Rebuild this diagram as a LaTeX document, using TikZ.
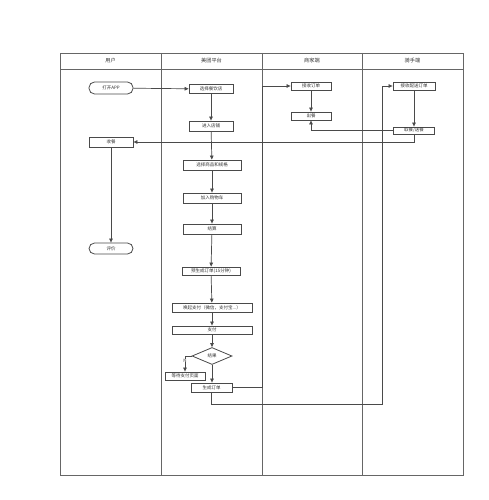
\documentclass[tikz,border=0pt]{standalone}
\usepackage{fontspec}
\setmainfont{Noto Sans CJK SC}
\usetikzlibrary{shapes.geometric,arrows.meta}
\definecolor{lane}{HTML}{666666}
\definecolor{edge}{HTML}{4a4a4a}
\begin{document}
\begin{tikzpicture}[x=1pt,y=-1pt,
  box/.style={draw=edge,line width=0.8pt,fill=white,inner sep=0pt,minimum height=9pt,font=\fontsize{4.5}{5}\selectfont,text=black!80},
  term/.style={box,rounded corners=5.5pt,minimum width=44pt,minimum height=12pt},
  dec/.style={draw=edge,line width=0.8pt,fill=white,diamond,aspect=2.35,inner sep=0pt,minimum width=40pt,minimum height=17pt,font=\fontsize{4.5}{5}\selectfont,text=black!80},
  conn/.style={draw=edge,line width=0.7pt,-{Triangle[length=4pt,width=3.5pt]}},
  hdr/.style={font=\fontsize{5.2}{6}\selectfont,text=black!80}]
\useasboundingbox (0,0) rectangle (488,500);
% lanes
\draw[lane,line width=0.9pt] (60,53) rectangle (463,475);
\draw[lane,line width=0.9pt] (60,69) -- (463,69);
\foreach \x in {161,262,362} \draw[lane,line width=0.9pt] (\x,53) -- (\x,475);
\node[hdr] (h1) at (110.5,61) {用户};
\node[hdr] (h2) at (211.5,61) {美团平台};
\node[hdr] (h3) at (312,61) {商家端};
\node[hdr] (h4) at (412.5,61) {骑手端};
% user
\node[term] (u1) at (111,88) {打开APP};
\node[box,minimum width=44pt,minimum height=10pt] (u2) at (111,142) {收餐};
\node[term,minimum height=11pt] (u3) at (111,248.5) {评价};
% platform
\node[box,minimum width=44pt] (p1) at (211,89) {选择餐饮店};
\node[box,minimum width=44pt,minimum height=10pt] (p2) at (211,126) {进入店铺};
\node[box,minimum width=58pt,minimum height=10pt] (p3) at (212,165) {选择商品和规格};
\node[box,minimum width=58pt,minimum height=10pt] (p4) at (212,198) {加入购物车};
\node[box,minimum width=58pt,minimum height=10pt] (p5) at (212,229) {结算};
\node[box,minimum width=58pt,minimum height=8pt] (p6) at (211,271) {预生成订单(15分钟)};
\node[box,minimum width=80pt] (p7) at (212,307.5) {唤起支付（微信，支付宝...）};
\node[box,minimum width=80pt,minimum height=8pt] (p8) at (212,330) {支付};
\node[dec] (d) at (212,356) {结果};
\node[box,minimum width=40pt,minimum height=8pt] (p9) at (185,376) {等待支付页面};
\node[box,minimum width=41pt] (p10) at (211.5,387.5) {生成订单};
% merchant
\node[box,minimum width=40pt,minimum height=8pt] (m1) at (311,86) {接收订单};
\node[box,minimum width=40pt,minimum height=8pt] (m2) at (311,116) {出餐};
% rider
\node[box,minimum width=42pt,minimum height=8pt] (r1) at (414,86) {接收配送订单};
\node[box,minimum width=41pt,minimum height=7pt] (r2) at (414,130.5) {取餐/送餐};
\coordinate (c1) at (262,387.5);
\coordinate (c2) at (262,86);
\coordinate (c3) at (211.5,404);
\coordinate (c4) at (382,404);
\coordinate (c5) at (382,86);
% connectors
\draw[conn] (u1) -- (p1);
\draw[conn] (p1) -- (p2);
\draw[conn] (p2) -- (p3);
\draw[conn] (p3) -- (p4);
\draw[conn] (p4) -- (p5);
\draw[conn] (p5) -- (p6);
\draw[conn] (p6) -- (p7);
\draw[conn] (p7) -- (p8);
\draw[conn] (p8) -- (d);
\draw[conn] (d.south) -- (d.south |- p10.north);
\draw[conn] (d.west) -- (p9.north |- d.west) -- (p9.north);
\node[font=\fontsize{4.5}{5}\selectfont,fill=white,inner sep=0.3pt,text=black!80] (nlab) at (185,360.5) {N};
\draw[conn] (p10.east) -- (c1) -- (c2) -- (m1.west);
\draw[conn] (p10.south) -- (c3) -- (c4) -- (c5) -- (r1.west);
\draw[conn] (m1) -- (m2);
\draw[conn] (r1) -- (r2);
\draw[conn] (r2.west) -- (m2.south |- r2.west) -- (m2.south);
\draw[conn] (r2.south) -- (r2.south |- u2.east) -- (u2.east);
\draw[conn] (u2) -- (u3);
\end{tikzpicture}
\end{document}
